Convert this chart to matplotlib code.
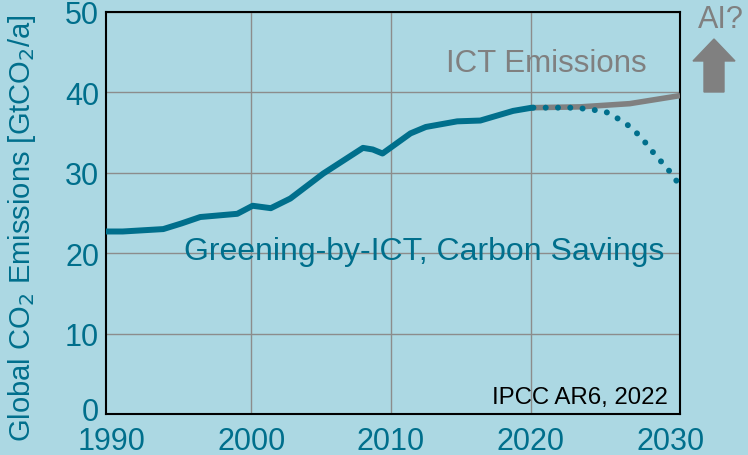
import numpy as np
import matplotlib.pyplot as plt
import matplotlib.transforms as mtransforms
from matplotlib.patches import Polygon

plt.rcParams['font.family'] = ['Liberation Sans', 'DejaVu Sans']

# historic global CO2 emissions (GtCO2/a)
hist_years = [1989.6, 1990.8, 1993.7, 1995.0, 1996.35, 1999.0, 2000.1, 2001.4, 2002.8, 2005.15,
              2008.0, 2008.7, 2009.4, 2011.4, 2012.5, 2014.75, 2016.4, 2018.75, 2020.1]
hist_vals = [22.7, 22.7, 23.0, 23.7, 24.5, 24.9, 25.9, 25.6, 26.8, 29.9,
             33.1, 32.9, 32.4, 34.9, 35.7, 36.4, 36.5, 37.7, 38.1]

# ICT emissions path (grey)
ict_years = [2020.1, 2023.55, 2027.1, 2030.7]
ict_vals = [38.1, 38.2, 38.6, 39.6]

# greening-by-ICT savings path (dotted)
green_years = [2020.2, 2021.1, 2021.95, 2022.8, 2023.7, 2024.6, 2025.5, 2026.2,
               2026.95, 2027.6, 2028.2, 2028.75, 2029.3, 2029.9, 2030.45]
green_vals = [38.1, 38.1, 38.1, 38.1, 38.0, 37.8, 37.5, 36.8,
              35.95, 34.95, 33.8, 32.6, 31.5, 30.3, 29.0]

xticks = [1990, 2000, 2010, 2020, 2030]
yticks = [0, 10, 20, 30, 40, 50]

teal = '#006f8c'
grey = '#808080'
bg = '#acd8e3'

fig = plt.figure(figsize=(7.48, 4.56), dpi=100, facecolor=bg)
ax = fig.add_axes([106 / 748, 1 - 415 / 456, 574 / 748, 402 / 456])
ax.set_facecolor('none')

ax.plot(ict_years, ict_vals, color=grey, lw=4, solid_capstyle='butt', zorder=3)
ax.plot(green_years, green_vals, color=teal, lw=4.3, linestyle=(0, (0.01, 2.05)),
        dash_capstyle='round', zorder=4)
ax.plot(hist_years, hist_vals, color=teal, lw=4.3, solid_capstyle='round',
        solid_joinstyle='round', zorder=5)

ax.set_xlim(1989.6, 2030.7)
ax.set_ylim(0, 50)
ax.set_xticks(xticks)
ax.set_yticks(yticks)
ax.grid(True, color='#8c8c8c', lw=1)
ax.get_xgridlines()[0].set_visible(False)
ax.get_xgridlines()[-1].set_visible(False)
ax.tick_params(length=0, labelsize=22, labelcolor=teal)
ax.tick_params(axis='x', pad=9)
ax.tick_params(axis='y', pad=5)
for s in ax.spines.values():
    s.set_color('black')
    s.set_linewidth(1.5)

# lift the "0" label a little so it clears "1990"
zero_lab = ax.get_yticklabels()[0]
zero_lab.set_transform(zero_lab.get_transform() +
                       mtransforms.ScaledTranslation(0, 5 / 100, fig.dpi_scale_trans))

fig.text(22 / 748, 1 - 228 / 456, 'Global CO$_2$ Emissions [GtCO$_2$/a]', color=teal,
         fontsize=21, rotation=90, ha='center', va='center')

ax.text(2021.1, 42.6, 'ICT Emissions', color=grey, fontsize=22.5, ha='center', va='baseline')
ax.text(2012.4, 19.3, 'Greening-by-ICT, Carbon Savings', color=teal, fontsize=23,
        ha='center', va='baseline')
ax.text(2029.85, 1.33, 'IPCC AR6, 2022', color='black', fontsize=17.3,
        ha='right', va='baseline')

fig.text(721 / 748, 1 - 28.3 / 456, 'AI?', color=grey, fontsize=22, ha='center', va='baseline')
arrow = [(714, 40), (735, 62), (724, 62), (724, 93), (704, 93), (704, 62), (693, 62)]
arrow = [(x / 748, 1 - y / 456) for x, y in arrow]
fig.patches.append(Polygon(arrow, closed=True, color=grey, transform=fig.transFigure))

fig.savefig('out.png', dpi=100, facecolor=bg)
